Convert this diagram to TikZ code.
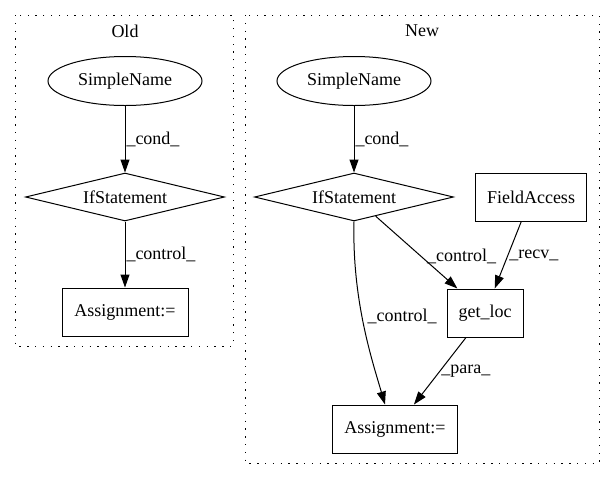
\documentclass[tikz,border=0pt]{standalone}
\usepackage{fontspec}
\setmainfont{Liberation Serif}
\usetikzlibrary{shapes.geometric,arrows.meta}
\begin{document}
\begin{tikzpicture}[x=1pt, y=-1pt, line width=1pt,
        every node/.style={font=\fontsize{18}{21}\selectfont},
        ast/.style={draw, black, inner sep=0pt},
        namenode/.style={ast, ellipse, minimum width=154pt, minimum height=49pt},
        condnode/.style={ast, diamond, aspect=4.1, minimum width=199pt, minimum height=48pt},
        stmtnode/.style={ast, rectangle, minimum height=48pt},
        flow/.style={-{Triangle[length=13pt, width=9pt]}},
        lbl/.style={right, inner sep=1pt},
        cluster/.style={draw, dash pattern=on 1.3pt off 6.5pt}]
    \useasboundingbox (0,0) rectangle (615,480);
    \draw[cluster] (15,15) rectangle (233,346);
    \node (oldtitle) at (125,31) {Old};
    \draw[cluster] (245,15) rectangle (599,463);
    \node (newtitle) at (422,31) {New};
    \node[namenode] (oldname) at (125,81) {SimpleName};
    \node[condnode] (oldif) at (125,197) {IfStatement};
    \node[stmtnode, minimum width=126pt] (oldassign) at (125,312) {Assignment:=};
    \node[namenode] (newname) at (354,81) {SimpleName};
    \node[condnode] (newif) at (354,197) {IfStatement};
    \node[stmtnode, minimum width=111pt] (field) at (531,197) {FieldAccess};
    \node[stmtnode, minimum width=76pt] (getloc) at (485,313) {get\_loc};
    \node[stmtnode, minimum width=125pt] (newassign) at (395,429) {Assignment:=};
    \draw[flow] (oldname) -- node[lbl] {\_cond\_} (oldif);
    \draw[flow] (oldif) -- node[lbl] {\_control\_} (oldassign);
    \draw[flow] (newname) -- node[lbl] {\_cond\_} (newif);
    \draw[flow] (newif) -- node[lbl, pos=0.55, xshift=5pt] {\_control\_} (getloc);
    \draw[flow] (field) -- node[lbl] {\_recv\_} (getloc);
    \draw[flow] (newif.south) .. controls (352,300) and (372,360) .. node[lbl, pos=0.45, xshift=4pt] {\_control\_} ([xshift=-10pt]newassign.north);
    \draw[flow] (getloc) -- node[lbl] {\_para\_} (newassign);
\end{tikzpicture}
\end{document}
